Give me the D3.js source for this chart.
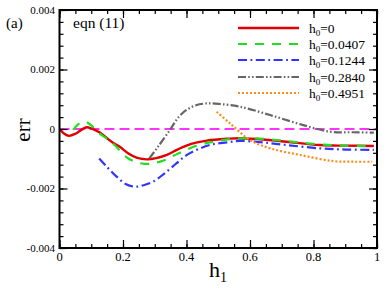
<!DOCTYPE html>
<html><head><meta charset="utf-8">
<script src="https://cdn.jsdelivr.net/npm/d3@7"></script>
<style>body{margin:0;background:#fff}svg{display:block}</style>
</head><body>
<script>
// Data (y values in units of 1e-4)
const redX   = [0,0.015,0.03,0.05,0.07,0.086,0.1,0.127,0.164,0.19,0.217,0.245,0.275,0.305,0.338,0.37,0.4,0.43,0.464,0.527,0.568,0.65,0.716,0.82,0.9,0.99];
const redY   = [0,-1.6,-2.3,-1.6,-0.2,0.6,0.2,-1.2,-4.3,-6.0,-8.2,-9.7,-10.2,-9.8,-8.7,-7.0,-5.6,-4.6,-3.9,-3.3,-3.1,-3.6,-4.3,-5.4,-5.6,-5.7];
const greenX = [0.043,0.057,0.07,0.083,0.1,0.12,0.154,0.172,0.217,0.266,0.322,0.374,0.432,0.484,0.53,0.6,0.7,0.8,0.9,0.99];
const greenY = [-0.3,1.4,2.3,2.4,1.2,-1.0,-3.6,-5.2,-9.9,-11.7,-10.8,-8.2,-5.6,-4.3,-3.5,-3.1,-3.9,-5.0,-5.6,-5.8];
const blueX  = [0.125,0.15,0.18,0.21,0.238,0.265,0.295,0.33,0.369,0.4,0.443,0.48,0.527,0.568,0.64,0.716,0.82,0.9,0.99];
const blueY  = [-9.9,-12.8,-16.0,-18.6,-19.4,-18.9,-17.7,-15.0,-11.5,-8.8,-6.5,-5.2,-4.5,-4.0,-4.5,-5.4,-6.5,-6.9,-7.0];
const grayX  = [0.283,0.31,0.348,0.375,0.4,0.43,0.464,0.505,0.568,0.663,0.768,0.852,0.92,0.99];
const grayY  = [-9.9,-6.0,-0.3,4.0,6.4,8.0,8.6,8.4,7.5,4.7,1.3,-0.9,-1.1,-1.2];
const orangeX= [0.495,0.537,0.6,0.663,0.757,0.862,0.93,0.985];
const orangeY= [5.8,1.9,-3.7,-6.5,-8.7,-10.8,-11.0,-11.0];
const refX = [0,1];
const refY = [0,0];
const seriesNames = ["h0=0","h0=0.0407","h0=0.1244","h0=0.2840","h0=0.4951"];
const seriesSub = ["0","0.0407","0.1244","0.2840","0.4951"];
const xTicks = [0,0.2,0.4,0.6,0.8,1];
const xTickLabels = ["0","0.2","0.4","0.6","0.8","1"];
const yTicks = [0.004,0.002,0,-0.002,-0.004];
const yTickLabels = ["0.004","0.002","0","-0.002","-0.004"];

const W=390,H=294;
const svg=d3.select("body").append("svg").attr("width",W).attr("height",H);
const x=d3.scaleLinear().domain([0,1]).range([59.5,377]);
const y=d3.scaleLinear().domain([-0.004,0.004]).range([248,10]);
const serif="'Liberation Serif','Times New Roman',serif";

const styles=[
 {c:"#e00000",d:null,w:2.4},
 {c:"#22dd22",d:"9,8",w:2.2},
 {c:"#3333ff",d:"9,3.5,1.8,3.5",w:2.2},
 {c:"#666666",d:"8,2.2,1.6,2.2,1.6,2.2",w:2.2},
 {c:"#ff8c1a",d:"2,2",w:2.2}
];
const data=[[redX,redY],[greenX,greenY],[blueX,blueY],[grayX,grayY],[orangeX,orangeY]];
const line=d3.line().x(d=>x(d[0])).y(d=>y(d[1]*1e-4)).curve(d3.curveCatmullRom.alpha(0.5));

// zero reference line
svg.append("path").datum(refX.map((v,i)=>[v,refY[i]]))
  .attr("d",line).attr("fill","none").attr("stroke","#ff33ff").attr("stroke-width",1.8).attr("stroke-dasharray","10,5");

data.forEach((s,i)=>{
  svg.append("path").datum(s[0].map((v,j)=>[v,s[1][j]]))
   .attr("d",line).attr("fill","none").attr("stroke",styles[i].c)
   .attr("stroke-width",styles[i].w).attr("stroke-dasharray",styles[i].d);
});

// axes
const xMinor=d3.range(0,1.0001,0.05);
const yMinor=d3.range(-0.004,0.00401,0.0004);
function axisGroup(tr){return svg.append("g").attr("transform",tr);}
const gxb=axisGroup(`translate(0,248)`);
gxb.call(d3.axisBottom(x).tickValues(xMinor).tickSize(-4).tickFormat(""));
gxb.call(g=>g.append("g").call(d3.axisBottom(x).tickValues(xTicks).tickSize(-8).tickFormat("")));
const gxt=axisGroup(`translate(0,10)`);
gxt.call(d3.axisTop(x).tickValues(xMinor).tickSize(-4).tickFormat(""));
gxt.call(g=>g.append("g").call(d3.axisTop(x).tickValues(xTicks).tickSize(-8).tickFormat("")));
const gyl=axisGroup(`translate(59.5,0)`);
gyl.call(d3.axisLeft(y).tickValues(yMinor).tickSize(-4).tickFormat(""));
gyl.call(g=>g.append("g").call(d3.axisLeft(y).tickValues(yTicks).tickSize(-8).tickFormat("")));
const gyr=axisGroup(`translate(377,0)`);
gyr.call(d3.axisRight(y).tickValues(yMinor).tickSize(-4).tickFormat(""));
gyr.call(g=>g.append("g").call(d3.axisRight(y).tickValues(yTicks).tickSize(-8).tickFormat("")));
svg.selectAll(".domain").remove();
svg.selectAll(".tick line").attr("stroke","#000").attr("stroke-width",1.2);
svg.selectAll("g g g .tick line").attr("stroke-width",2);
svg.append("rect").attr("x",59.5).attr("y",10).attr("width",317.5).attr("height",238)
  .attr("fill","none").attr("stroke","#000").attr("stroke-width",2);

// tick labels
svg.append("g").selectAll("text").data(xTicks).join("text")
 .attr("x",d=>x(d)).attr("y",261).attr("text-anchor","middle")
 .attr("font-family",serif).attr("font-size",12.5).text((d,i)=>xTickLabels[i]);
svg.append("g").selectAll("text").data(yTicks).join("text")
 .attr("x",55).attr("y",d=>y(d)+3.5).attr("text-anchor","end")
 .attr("font-family",serif).attr("font-size",11).text((d,i)=>yTickLabels[i]);

// axis titles
const xl=svg.append("text").attr("x",209).attr("y",277).attr("font-family",serif).attr("font-size",22);
xl.append("tspan").text("h");
xl.append("tspan").attr("font-size",14).attr("dy",5).text("1");
svg.append("text").attr("transform","translate(30,130) rotate(-90)").attr("text-anchor","middle")
 .attr("font-family",serif).attr("font-size",21).text("err");

svg.append("text").attr("x",6).attr("y",28).attr("font-family",serif).attr("font-size",15).text("(a)");
svg.append("text").attr("x",73).attr("y",28).attr("font-family",serif).attr("font-size",15.5).text("eqn (11)");

// legend
const ly=[28,44,60,77,93];
seriesNames.forEach((n,i)=>{
  svg.append("line").attr("x1",238).attr("x2",299).attr("y1",ly[i]).attr("y2",ly[i])
   .attr("stroke",styles[i].c).attr("stroke-width",styles[i].w).attr("stroke-dasharray",styles[i].d);
  const t=svg.append("text").attr("x",309).attr("y",ly[i]+4.5).attr("font-family",serif).attr("font-size",13.5);
  t.append("tspan").text("h");
  t.append("tspan").attr("font-size",9).attr("dy",3).text("0");
  t.append("tspan").attr("dy",-3).text("="+seriesSub[i]);
});
</script>
</body></html>
